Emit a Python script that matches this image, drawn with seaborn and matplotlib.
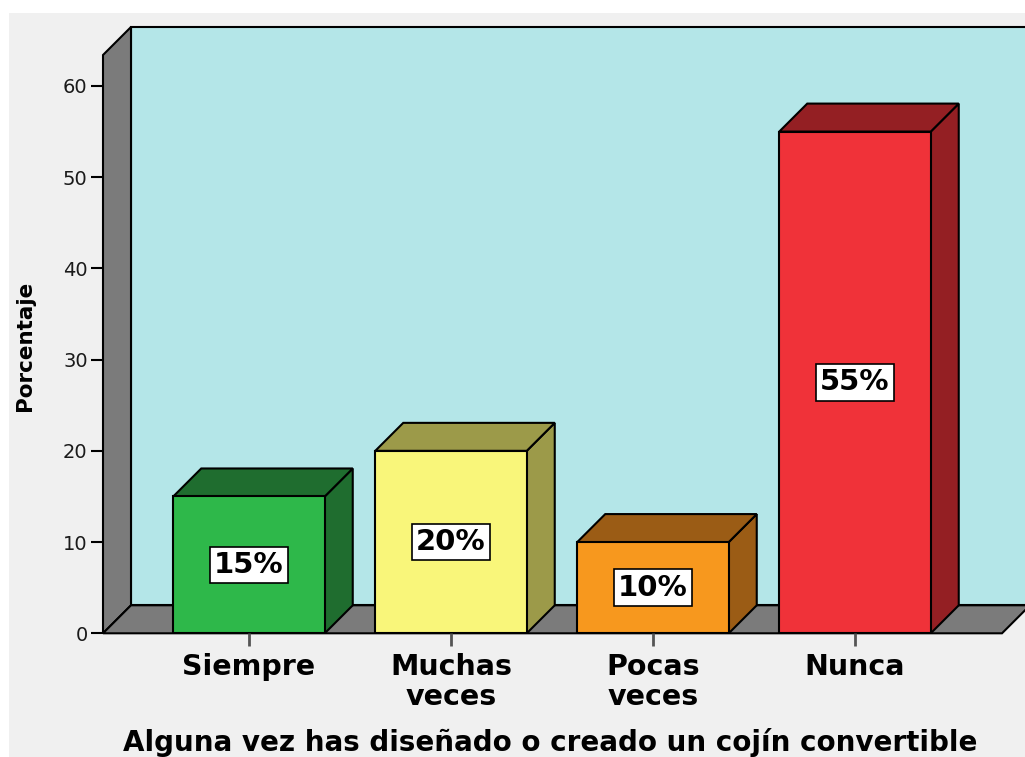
import matplotlib
matplotlib.use("Agg")
import matplotlib.pyplot as plt
from matplotlib.patches import Polygon, Rectangle
import seaborn as sns
import pandas as pd

# datos del grafico
categorias = ["Siempre", "Muchas veces", "Pocas veces", "Nunca"]
etiquetas_x = ["Siempre", "Muchas\nveces", "Pocas\nveces", "Nunca"]
porcentajes = [15, 20, 10, 55]
y_ticks = [0, 10, 20, 30, 40, 50, 60]

colores_frente = ["#2eb84a", "#f9f67a", "#f7981e", "#f03239"]
colores_lado = ["#1f6d2f", "#9c9a49", "#9b5c15", "#941f23"]

sns.set_style("white")
plt.rcParams['font.family'] = ['DejaVu Sans']
plt.rcParams['text.color'] = 'black'

df = pd.DataFrame({'cat': categorias, 'pct': porcentajes})

W, H = 1025, 757
fig = plt.figure(figsize=(W / 100, H / 100), dpi=100)
fig.patch.set_facecolor('white')
# fondo gris (deja franja blanca arriba y a la izquierda)
fig.patches.append(Rectangle((9 / W, 0), 1, 1 - 13 / H, transform=fig.transFigure,
                             facecolor='#f0f0f0', edgecolor='none', zorder=-10))

# geometria en pixeles -> ejes
px_left, px_right = 103, 1025
px_top, px_zero = 27, 633.3
px_cat0, px_step = 249, 202
px_per_unit = 9.122
ax = fig.add_axes([px_left / W, (H - px_zero) / H,
                   (px_right - px_left) / W, (px_zero - px_top) / H])
x0 = (px_left - px_cat0) / px_step
x1 = (px_right - px_cat0) / px_step
ytop = (px_zero - px_top) / px_per_unit
ax.patch.set_alpha(0)

sns.barplot(data=df, x='cat', y='pct', hue='cat', palette=colores_frente, legend=False,
            width=0.75, edgecolor='black', linewidth=1.5, saturation=1, ax=ax, zorder=2)
ax.set_xlim(x0, x1)
ax.set_ylim(0, ytop)

# profundidad 3D
depth = 28
dx = depth / px_step
dy = depth / px_per_unit
xr = (1002 - px_cat0) / px_step

gris = '#7b7b7b'
lw = 1.5
# pared trasera
ax.add_patch(Polygon([(x0 + dx, dy), (xr + dx, dy), (xr + dx, ytop), (x0 + dx, ytop)],
                     closed=True, facecolor='#b4e6e8', edgecolor='black', lw=lw, zorder=0.2,
                     clip_on=False))
# pared izquierda
ax.add_patch(Polygon([(x0, 0), (x0 + dx, dy), (x0 + dx, ytop), (x0, ytop - dy)],
                     closed=True, facecolor=gris, edgecolor='black', lw=lw, zorder=0.3,
                     clip_on=False))
# piso
ax.add_patch(Polygon([(x0, 0), (xr, 0), (xr + dx, dy), (x0 + dx, dy)],
                     closed=True, facecolor=gris, edgecolor='black', lw=lw, zorder=0.3,
                     clip_on=False))

# caras laterales y superiores de las barras
barras = [p for p in ax.patches if p.get_zorder() == 2][:len(porcentajes)]
for p, c in zip(barras, colores_lado):
    bx, bw, bh = p.get_x(), p.get_width(), p.get_height()
    ax.add_patch(Polygon([(bx + bw, 0), (bx + bw + dx, dy), (bx + bw + dx, bh + dy), (bx + bw, bh)],
                         closed=True, facecolor=c, edgecolor='black', lw=lw, zorder=1.9))
    ax.add_patch(Polygon([(bx, bh), (bx + dx, bh + dy), (bx + bw + dx, bh + dy), (bx + bw, bh)],
                         closed=True, facecolor=c, edgecolor='black', lw=lw, zorder=1.9))

# etiquetas de valor
for i, v in enumerate(porcentajes):
    ax.text(i, v / 2, f"{v}%", ha='center', va='center', fontsize=21, fontweight='bold',
            color='black', zorder=5,
            bbox=dict(boxstyle='square,pad=0.15', facecolor='white', edgecolor='black', lw=1.2))

for s in ax.spines.values():
    s.set_visible(False)

ax.set_yticks(y_ticks)
ax.set_yticklabels([str(t) for t in y_ticks], fontsize=14, color='#1a1a1a')
ax.tick_params(axis='y', left=True, length=9, width=1.5, color='black', pad=2, direction='out')
ax.set_xticks(range(len(categorias)))
ax.set_xticklabels(etiquetas_x, fontsize=20.5, fontweight='bold', color='black')
for lab in ax.get_xticklabels():
    lab.set_linespacing(1.08)
ax.tick_params(axis='x', bottom=True, length=9.5, width=2, color='#555555', pad=5, direction='out')
ax.set_xlabel('')
ax.set_ylabel('')

fig.text(25 / W, (H - 346) / H, 'Porcentaje', rotation=90, ha='center', va='center',
         fontsize=15.5, fontweight='bold', color='black')
fig.text(550 / W, 6 / H, 'Alguna vez has diseñado o creado un cojín convertible',
         ha='center', va='baseline', fontsize=20, fontweight='bold', color='black')

fig.savefig('out.png', dpi=100)
